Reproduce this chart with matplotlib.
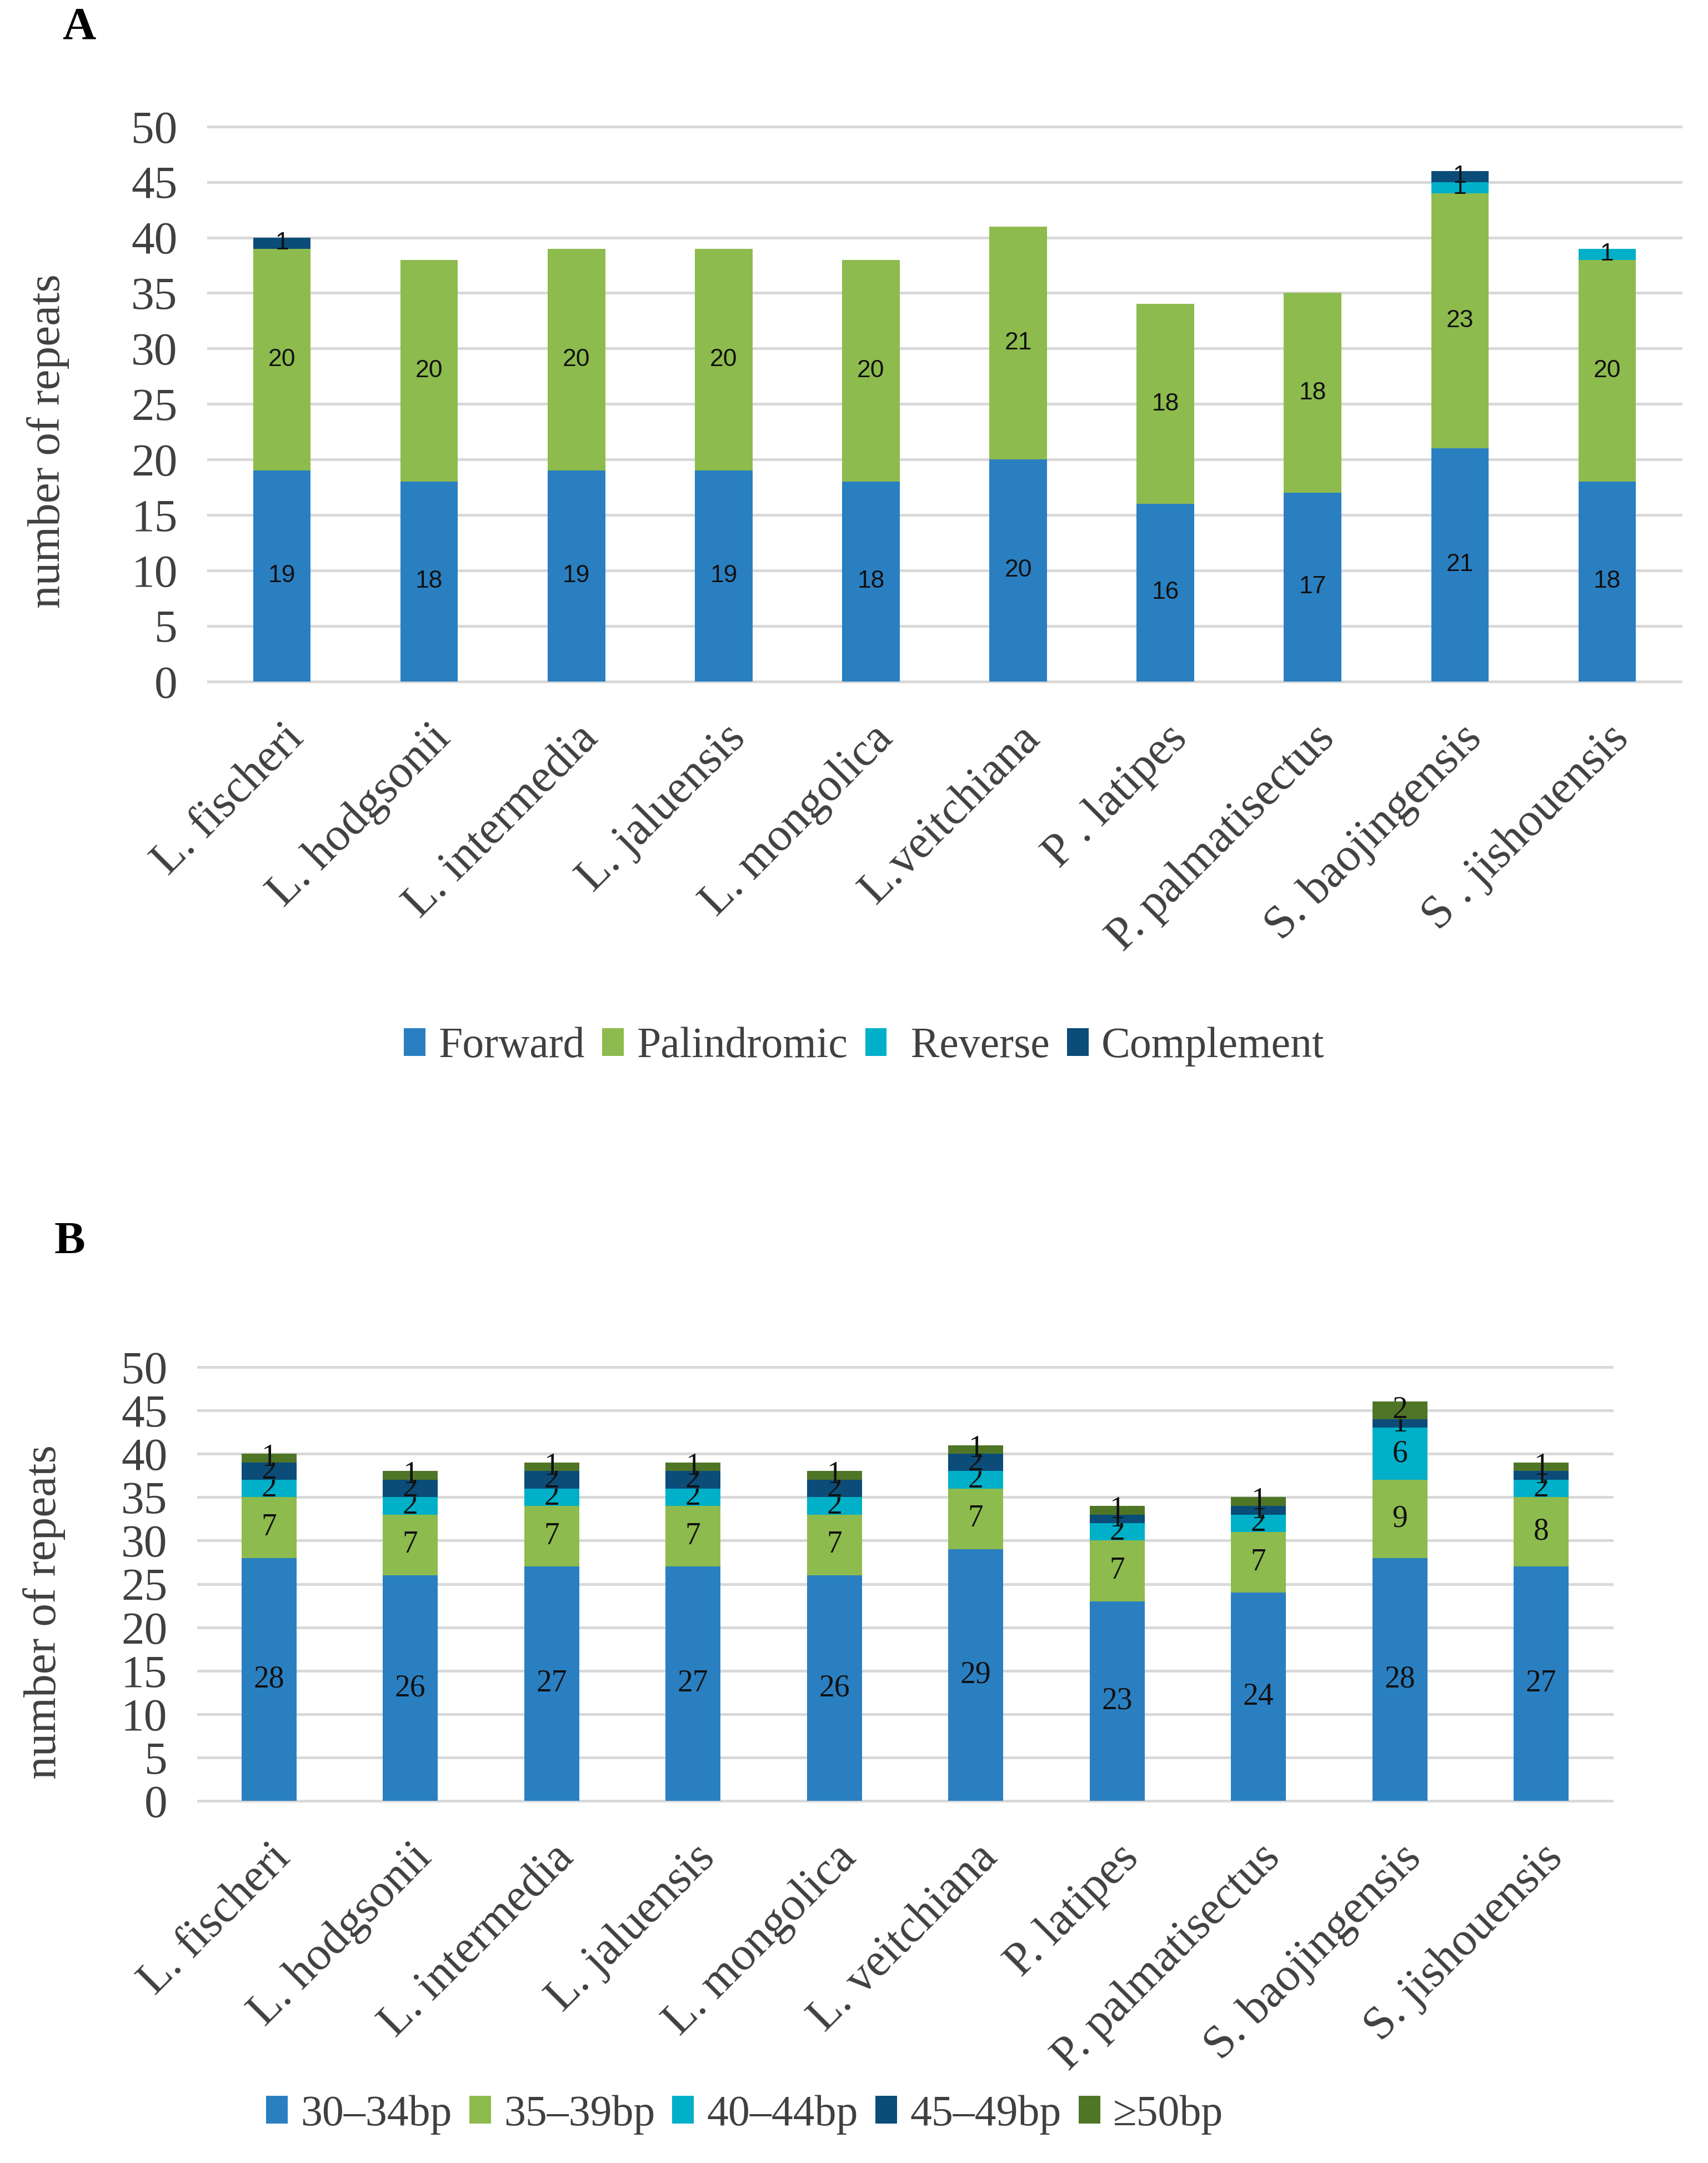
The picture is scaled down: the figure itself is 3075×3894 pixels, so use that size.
import numpy as np
import matplotlib.pyplot as plt

plt.rcParams['font.family'] = ['Liberation Serif', 'DejaVu Serif']

# panel A: repeat types
species_a = ["L. fischeri", "L. hodgsonii", "L. intermedia", "L. jaluensis", "L. mongolica",
             "L.veitchiana", "P . latipes", "P. palmatisectus", "S. baojingensis", "S . jishouensis"]
forward = [19, 18, 19, 19, 18, 20, 16, 17, 21, 18]
palindromic = [20, 20, 20, 20, 20, 21, 18, 18, 23, 20]
reverse = [0, 0, 0, 0, 0, 0, 0, 0, 1, 1]
complement = [1, 0, 0, 0, 0, 0, 0, 0, 1, 0]

# panel B: repeat lengths
species_b = ["L. fischeri", "L. hodgsonii", "L. intermedia", "L. jaluensis", "L. mongolica",
             "L. veitchiana", "P. latipes", "P. palmatisectus", "S. baojingensis", "S. jishouensis"]
len_30_34 = [28, 26, 27, 27, 26, 29, 23, 24, 28, 27]
len_35_39 = [7, 7, 7, 7, 7, 7, 7, 7, 9, 8]
len_40_44 = [2, 2, 2, 2, 2, 2, 2, 2, 6, 2]
len_45_49 = [2, 2, 2, 2, 2, 2, 1, 1, 1, 1]
len_50 = [1, 1, 1, 1, 1, 1, 1, 1, 2, 1]

c_blue = '#2a7fc1'
c_green = '#8dbb4d'
c_cyan = '#00afc8'
c_navy = '#0b4c78'
c_dgreen = '#4f7627'
grid_c = '#d9d9d9'
txt_c = '#404040'


def stacked(ax, names, series, labels, colors, lab_font, lab_size, xpad, ypad):
    x = np.arange(len(names))
    bottom = np.zeros(len(names))
    handles = []
    for vals, lab, col in zip(series, labels, colors):
        vals = np.array(vals, dtype=float)
        bars = ax.bar(x, vals, 0.39, bottom=bottom, color=col, label=lab, zorder=3)
        ax.bar_label(bars, labels=[str(int(v)) if v > 0 else '' for v in vals],
                     label_type='center', fontsize=lab_size, family=lab_font, color='#111111')
        bottom += vals
        handles.append(bars)
    for y in range(0, 51, 5):
        ax.axhline(y, color=grid_c, lw=3.6, zorder=1, clip_on=False)
    ax.set_xlim(-0.5, len(names) - 0.5)
    ax.set_ylim(0, 50)
    ax.set_yticks(range(0, 51, 5))
    ax.set_xticks(x)
    ax.set_xticklabels(names, rotation=45, ha='right', rotation_mode='anchor')
    ax.tick_params(axis='x', length=0, pad=xpad, labelsize=61, labelcolor=txt_c)
    ax.tick_params(axis='y', length=0, pad=ypad, labelsize=60, labelcolor=txt_c)
    for s in ax.spines.values():
        s.set_visible(False)
    return handles


fig = plt.figure(figsize=(30.75, 38.94), dpi=100)

ax1 = fig.add_axes([0.122, 0.685, 0.862, 0.2565])
h1 = stacked(ax1, species_a, [forward, palindromic, reverse, complement],
             ['Forward', 'Palindromic', ' Reverse', 'Complement'],
             [c_blue, c_green, c_cyan, c_navy], 'Liberation Sans', 32, 46, 40)
fig.legend(handles=h1, loc='center', bbox_to_anchor=(0.506, 0.516), ncol=4, frameon=False,
           fontsize=56, handlelength=0.5, handleheight=0.6, handletextpad=0.3,
           columnspacing=0.4, labelcolor=txt_c)

ax2 = fig.add_axes([0.1161, 0.1674, 0.8276, 0.2006])
h2 = stacked(ax2, species_b, [len_30_34, len_35_39, len_40_44, len_45_49, len_50],
             ['30–34bp', '35–39bp', '40–44bp', '45–49bp', '≥50bp'],
             [c_blue, c_green, c_cyan, c_navy, c_dgreen], 'Liberation Serif', 40, 46, 40)
fig.legend(handles=h2, loc='center', bbox_to_anchor=(0.436, 0.0224), ncol=5, frameon=False,
           fontsize=56, handlelength=0.5, handleheight=0.6, handletextpad=0.3,
           columnspacing=0.4, labelcolor=txt_c)

fig.text(87 / 3075, 1 - 794 / 3894, 'number of repeats', rotation=90, ha='center', va='center',
         fontsize=60, color=txt_c)
fig.text(80 / 3075, 1 - 2902 / 3894, 'number of repeats', rotation=90, ha='center', va='center',
         fontsize=60, color=txt_c)
fig.text(112 / 3075, 1 - 50 / 3894, 'A', fontsize=60, fontweight='bold', ha='left', va='center')
fig.text(98 / 3075, 1 - 2237 / 3894, 'B', fontsize=60, fontweight='bold', ha='left', va='center')

fig.savefig('out.png', dpi=100)
